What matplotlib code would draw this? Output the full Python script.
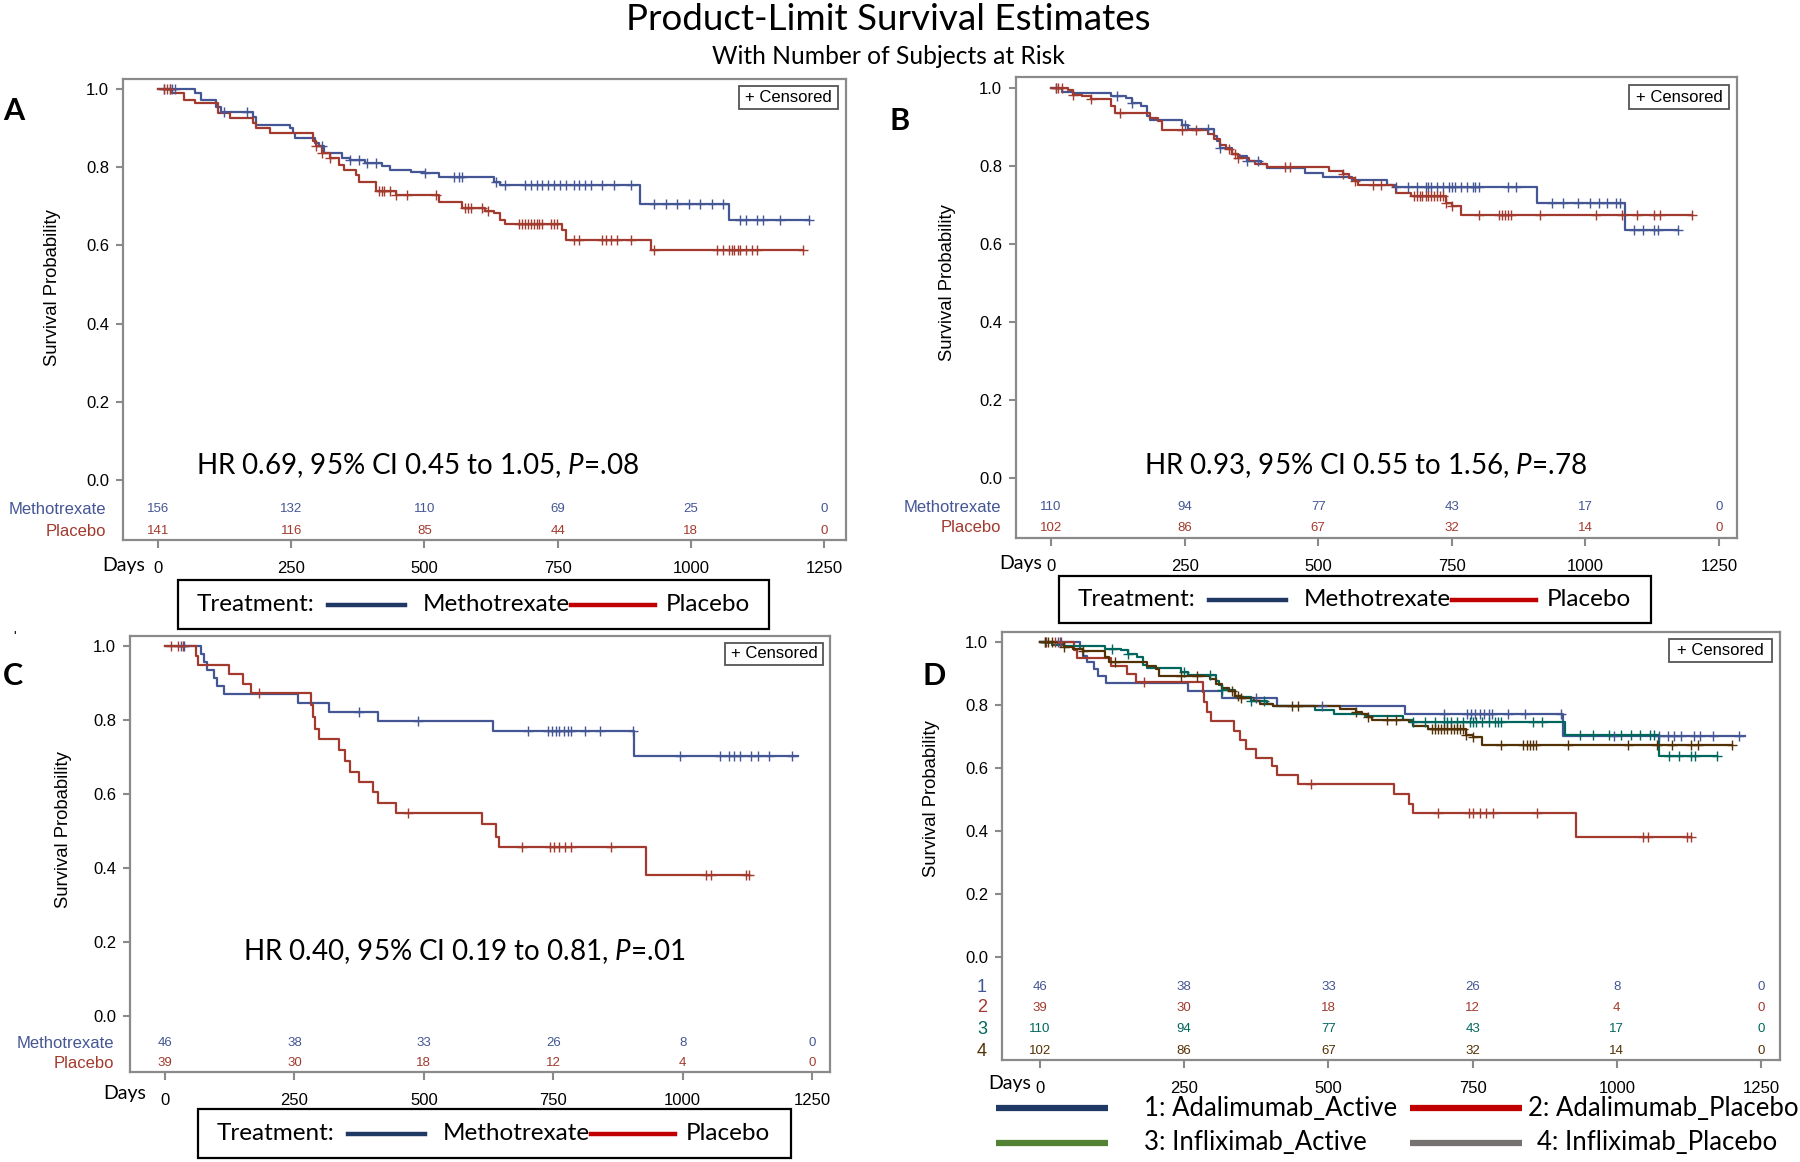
import numpy as np
import matplotlib
matplotlib.use("Agg")
import matplotlib.pyplot as plt
from matplotlib import transforms
from matplotlib.lines import Line2D
from matplotlib.patches import Rectangle

plt.rcParams['font.family'] = ['Liberation Sans', 'DejaVu Sans']
plt.rcParams['mathtext.fontset'] = 'custom'
plt.rcParams['mathtext.rm'] = 'Lato'
plt.rcParams['mathtext.it'] = 'Lato:italic'

W, H = 1800, 1162
BLUE, RED, TEAL, BROWN = '#445694', '#A23A2E', '#01665E', '#543005'
FRAME = '#8a8a8a'
CAL = ['Lato', 'DejaVu Sans']
NUM = ['Liberation Sans Narrow', 'Liberation Sans']

days = [0, 250, 500, 750, 1000, 1250]
surv_ticks = [0.0, 0.2, 0.4, 0.6, 0.8, 1.0]

# ---- Panel A: all patients (methotrexate vs placebo)
a_mtx_t = [70, 81, 108, 118, 178, 183, 248, 253, 258, 294, 302, 312, 345, 361,
           388, 420, 436, 474, 501, 528, 630, 641, 904, 1071]
a_mtx_s = [0.989, 0.972, 0.955, 0.942, 0.929, 0.908, 0.901, 0.887, 0.874, 0.861,
           0.853, 0.836, 0.823, 0.819, 0.810, 0.802, 0.793, 0.789, 0.785, 0.776,
           0.763, 0.755, 0.706, 0.666]
a_mtx_end = 1222
a_mtx_cens = [11, 22, 27, 32, 124, 167, 307, 361, 377, 393, 409, 501, 555, 565, 571,
              635, 651, 689, 700, 711, 721, 732, 743, 754, 765, 781, 791, 802, 813,
              834, 856, 888, 931, 953, 974, 996, 1018, 1039, 1061, 1093, 1104, 1125,
              1136, 1168, 1222]
a_pla_t = [27, 48, 70, 113, 135, 178, 183, 210, 291, 296, 307, 323, 339, 350, 372,
           377, 409, 447, 528, 571, 614, 630, 641, 651, 759, 765, 926]
a_pla_s = [0.989, 0.972, 0.963, 0.938, 0.925, 0.912, 0.900, 0.887, 0.866, 0.853,
           0.836, 0.823, 0.806, 0.793, 0.780, 0.761, 0.738, 0.729, 0.712, 0.695,
           0.689, 0.683, 0.666, 0.655, 0.640, 0.614, 0.587]
a_pla_end = 1211
a_pla_cens = [11, 16, 22, 296, 307, 323, 415, 420, 425, 436, 447, 468, 522, 576, 581,
              587, 608, 619, 678, 684, 689, 695, 700, 705, 711, 716, 721, 738, 743,
              748, 781, 791, 834, 840, 851, 861, 888, 931, 1050, 1061, 1071, 1077,
              1082, 1088, 1093, 1104, 1114, 1125, 1211]
a_risk_mtx = [156, 132, 110, 69, 25, 0]
a_risk_pla = [141, 116, 85, 44, 18, 0]

# ---- Panel B: infliximab trial
b_mtx_t = [20, 42, 113, 141, 152, 168, 179, 185, 245, 256, 305, 311, 316, 338, 349,
           366, 393, 404, 476, 509, 563, 629, 646, 910, 1074]
b_mtx_s = [0.991, 0.987, 0.979, 0.974, 0.962, 0.953, 0.928, 0.919, 0.906, 0.894,
           0.877, 0.864, 0.847, 0.830, 0.826, 0.813, 0.804, 0.796, 0.783, 0.773,
           0.764, 0.751, 0.745, 0.706, 0.637]
b_mtx_end = 1173
b_mtx_cens = [9, 124, 152, 250, 294, 316, 366, 388, 646, 668, 684, 701, 706, 712, 723,
              734, 745, 750, 756, 767, 778, 789, 794, 800, 855, 871, 937, 959, 986,
              1008, 1025, 1041, 1058, 1065, 1091, 1107, 1129, 1135, 1173]
b_pla_t = [31, 42, 58, 75, 113, 119, 185, 201, 207, 294, 305, 316, 327, 338, 349,
           371, 382, 404, 520, 547, 558, 569, 575, 640, 646, 673, 739, 750, 767]
b_pla_s = [0.996, 0.983, 0.979, 0.972, 0.953, 0.936, 0.923, 0.915, 0.892, 0.881,
           0.868, 0.855, 0.843, 0.830, 0.821, 0.813, 0.804, 0.798, 0.787, 0.779,
           0.770, 0.762, 0.751, 0.745, 0.732, 0.723, 0.706, 0.698, 0.674]
b_pla_end = 1200
b_pla_cens = [9, 14, 20, 42, 75, 130, 245, 272, 333, 344, 349, 437, 448, 547, 569, 602,
              618, 679, 684, 690, 695, 701, 706, 712, 717, 723, 728, 734, 739, 750,
              800, 838, 844, 849, 855, 860, 915, 1019, 1069, 1096, 1129, 1140, 1200]
b_risk_mtx = [110, 94, 77, 43, 17, 0]
b_risk_pla = [102, 86, 67, 32, 14, 0]

# ---- Panel C: adalimumab trial
c_mtx_t = [70, 75, 81, 94, 101, 114, 256, 316, 411, 633, 906]
c_mtx_s = [0.978, 0.957, 0.935, 0.913, 0.891, 0.870, 0.846, 0.821, 0.796, 0.771, 0.703]
c_mtx_end = 1222
c_mtx_cens = [31, 37, 375, 489, 701, 740, 748, 755, 762, 770, 779, 784, 812, 840, 904,
              995, 1073, 1089, 1100, 1111, 1133, 1145, 1167, 1211]
c_pla_t = [59, 64, 123, 150, 167, 283, 285, 289, 297, 336, 347, 358, 375, 402, 411,
           447, 613, 640, 646, 929]
c_pla_s = [0.974, 0.949, 0.923, 0.897, 0.872, 0.840, 0.808, 0.777, 0.750, 0.719,
           0.690, 0.660, 0.632, 0.606, 0.577, 0.548, 0.519, 0.485, 0.456, 0.381]
c_pla_end = 1128
c_pla_cens = [11, 26, 34, 181, 469, 690, 744, 751, 762, 773, 785, 862, 1045, 1054,
              1122, 1128]
c_risk_mtx = [46, 38, 33, 26, 8, 0]
c_risk_pla = [39, 30, 18, 12, 4, 0]

d_labels = ['Adalimumab_Active', 'Adalimumab_Placebo',
            'Infliximab_Active', 'Infliximab_Placebo']

fig = plt.figure(figsize=(W / 100, H / 100), dpi=100)
# pixel coordinates, origin top-left
P = transforms.Affine2D().scale(1 / W, -1 / H).translate(0, 1) + fig.transFigure


def km(ax, t, s, end, cens, color):
    x = [0] + list(t) + [end]
    y = [1.0] + list(s) + [s[-1]]
    ax.step(x, y, where='post', color=color, lw=1.6, zorder=3)
    lev = np.array([1.0] + list(s))
    cy = lev[np.searchsorted(t, cens, side='right')]
    ax.plot(cens, cy, ls='none', marker='+', ms=7, mew=1.0, color=color, zorder=4)


def panel(frame, x0, x1250, y1, y0):
    l, t, r, b = frame
    ax = fig.add_axes([l / W, 1 - b / H, (r - l) / W, (b - t) / H])
    xs = (x1250 - x0) / 1250
    ys = y0 - y1
    ax.set_xlim((l - x0) / xs, (r - x0) / xs)
    ax.set_ylim((y0 - b) / ys, (y0 - t) / ys)
    for sp in ax.spines.values():
        sp.set_color(FRAME)
        sp.set_linewidth(1.6)
    ax.set_xticks(days)
    ax.set_xticklabels([str(d) for d in days])
    ax.set_yticks(surv_ticks)
    ax.set_yticklabels(['%.1f' % v for v in surv_ticks])
    ax.tick_params(axis='x', direction='out', length=6, width=1.5, color=FRAME,
                   labelsize=12, pad=9)
    ax.tick_params(axis='y', direction='out', length=5, width=1.5, color=FRAME,
                   labelsize=12, pad=5)
    return ax


def risk(ax, row_y, values, color):
    bt = transforms.blended_transform_factory(ax.transData, P)
    for d, v in zip(days, values):
        ax.text(d, row_y, str(v), transform=bt, ha='center', va='center',
                fontsize=9.5, color=color, family=NUM)


def row_label(x, y, s, color, size=12):
    fig.text(x, y, s, transform=P, ha='right', va='center', fontsize=size, color=color)


def censored_box(x0, y0, x1, y1):
    fig.add_artist(Rectangle((x0, y0), x1 - x0, y1 - y0, transform=P, fc='white',
                             ec='#555555', lw=1.3, zorder=5))
    fig.text((x0 + x1) / 2, (y0 + y1) / 2, '+ Censored', transform=P, ha='center',
             va='center', fontsize=12, zorder=6)


def treat_legend(L, T, R, B):
    fig.add_artist(Rectangle((L, T), R - L, B - T, transform=P, fill=False,
                             ec='black', lw=1.6))
    yc = (T + B) / 2
    fig.text(L + 19, yc, 'Treatment:', transform=P, va='center', fontsize=17.5, family=CAL)
    fig.add_artist(Line2D([L + 150, L + 227], [yc, yc], transform=P, color='#203864', lw=3.2))
    fig.text(L + 245, yc, 'Methotrexate', transform=P, va='center', fontsize=17.5, family=CAL)
    fig.add_artist(Line2D([L + 393, L + 477], [yc, yc], transform=P, color='#C00000', lw=3.2))
    fig.text(L + 488, yc, 'Placebo', transform=P, va='center', fontsize=17.5, family=CAL)


def ylab(x, y):
    fig.text(x, y, 'Survival Probability', transform=P, rotation=90, ha='center',
             va='center', fontsize=13.3)


def hr_text(x, y, s):
    fig.text(x, y, s, transform=P, ha='center', va='center', fontsize=20, family=CAL)


def days_label(x, y):
    fig.text(x, y, 'Days', transform=P, ha='right', va='center', fontsize=14, family=CAL)


def letter(x, y, s):
    fig.text(x, y, s, transform=P, ha='center', va='center', fontsize=22,
             fontweight='bold', family=CAL)


# titles
fig.text(888, 19, 'Product-Limit Survival Estimates', transform=P, ha='center',
         va='center', fontsize=26.5, family=CAL)
fig.text(888, 57, 'With Number of Subjects at Risk', transform=P, ha='center',
         va='center', fontsize=17.7, family=CAL)

# ---------------- A
axA = panel((123, 79, 846, 540), 158, 824, 89, 480)
km(axA, a_mtx_t, a_mtx_s, a_mtx_end, a_mtx_cens, BLUE)
km(axA, a_pla_t, a_pla_s, a_pla_end, a_pla_cens, RED)
risk(axA, 509, a_risk_mtx, BLUE)
risk(axA, 531, a_risk_pla, RED)
row_label(106, 509, 'Methotrexate', BLUE)
row_label(106, 531, 'Placebo', RED)
days_label(145, 566)
censored_box(739, 86, 838, 109)
hr_text(417, 466, 'HR 0.69, 95% CI 0.45 to 1.05, $P$=.08')
ylab(53, 288)
treat_legend(178, 580, 769, 629)
letter(14, 111, 'A')

# ---------------- B
axB = panel((1016, 77, 1737, 538), 1051, 1719, 88, 478)
km(axB, b_mtx_t, b_mtx_s, b_mtx_end, b_mtx_cens, BLUE)
km(axB, b_pla_t, b_pla_s, b_pla_end, b_pla_cens, RED)
risk(axB, 507, b_risk_mtx, BLUE)
risk(axB, 528, b_risk_pla, RED)
row_label(1001, 507, 'Methotrexate', BLUE)
row_label(1001, 528, 'Placebo', RED)
days_label(1042, 563)
censored_box(1629, 85, 1729, 109)
hr_text(1365, 466, 'HR 0.93, 95% CI 0.55 to 1.56, $P$=.78')
ylab(948, 283)
treat_legend(1059, 576, 1651, 623)
letter(900, 121, 'B')

# ---------------- C
axC = panel((130, 636, 830, 1072), 165, 812, 646, 1016)
km(axC, c_mtx_t, c_mtx_s, c_mtx_end, c_mtx_cens, BLUE)
km(axC, c_pla_t, c_pla_s, c_pla_end, c_pla_cens, RED)
risk(axC, 1043, c_risk_mtx, BLUE)
risk(axC, 1063, c_risk_pla, RED)
row_label(114, 1043, 'Methotrexate', BLUE)
row_label(114, 1063, 'Placebo', RED)
days_label(146, 1094)
censored_box(725, 643, 823, 665)
hr_text(464, 952, 'HR 0.40, 95% CI 0.19 to 0.81, $P$=.01')
ylab(63, 830)
treat_legend(198, 1109, 791, 1158)
letter(13, 676, 'C')
fig.text(15, 637, "'", transform=P, ha='center', va='center', fontsize=10)

# ---------------- D (adalimumab = panel C data, infliximab = panel B data)
axD = panel((1002, 632, 1780, 1060), 1040, 1761, 642, 957)
km(axD, c_mtx_t, c_mtx_s, c_mtx_end, c_mtx_cens, BLUE)
km(axD, c_pla_t, c_pla_s, c_pla_end, c_pla_cens, RED)
km(axD, b_mtx_t, b_mtx_s, b_mtx_end, b_mtx_cens, TEAL)
km(axD, b_pla_t, b_pla_s, b_pla_end, b_pla_cens, BROWN)
d_rows = [(987, c_risk_mtx, BLUE), (1008, c_risk_pla, RED),
          (1029, b_risk_mtx, TEAL), (1051, b_risk_pla, BROWN)]
for i, (yy, vals, col) in enumerate(d_rows):
    risk(axD, yy, vals, col)
    fig.text(982, yy, str(i + 1), transform=P, ha='center', va='center', fontsize=13,
             color=col)
days_label(1031, 1084)
censored_box(1669, 639, 1772, 662)
ylab(932, 799)
letter(934, 676, 'D')

leg_cols = ['#203864', '#C00000', '#548235', '#767171']
leg_pos = [(996, 1144, 1108), (1410, 1528, 1108), (996, 1144, 1143), (1410, 1537, 1143)]
for i, (lab, col, (sx, tx, yy)) in enumerate(zip(d_labels, leg_cols, leg_pos)):
    fig.add_artist(Line2D([sx, sx + 112], [yy, yy], transform=P, color=col, lw=4.5,
                          solid_capstyle='butt'))
    num = '%d: ' % (i + 1)
    fig.text(tx, yy, num + lab, transform=P, va='center', fontsize=18.5, family=CAL)

fig.savefig('out.png', dpi=100)
